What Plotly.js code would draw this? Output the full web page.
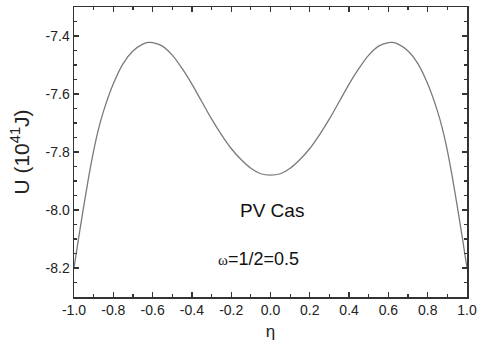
<!DOCTYPE html>
<html>
<head>
<meta charset="utf-8">
<script src="https://cdn.plot.ly/plotly-3.0.1.min.js"></script>
<style>html,body{margin:0;padding:0;background:#fff;}#chart{width:480px;height:347px;}</style>
</head>
<body>
<div id="chart"></div>
<script>
const eta = [-1.00,-0.975,-0.95,-0.925,-0.90,-0.875,-0.85,-0.80,-0.75,-0.70,-0.65,-0.62,-0.60,-0.55,-0.50,-0.45,-0.40,-0.35,-0.30,-0.25,-0.20,-0.15,-0.10,-0.05,0.00,
             0.05,0.10,0.15,0.20,0.25,0.30,0.35,0.40,0.45,0.50,0.55,0.60,0.62,0.65,0.70,0.75,0.80,0.85,0.875,0.90,0.925,0.95,0.975,1.00];
const U = [-8.20,-8.09,-7.985,-7.885,-7.795,-7.72,-7.66,-7.565,-7.495,-7.452,-7.428,-7.422,-7.423,-7.435,-7.466,-7.512,-7.566,-7.626,-7.686,-7.740,-7.788,-7.826,-7.856,-7.875,-7.880,
           -7.875,-7.856,-7.826,-7.788,-7.740,-7.686,-7.626,-7.566,-7.512,-7.466,-7.435,-7.423,-7.422,-7.428,-7.452,-7.495,-7.565,-7.66,-7.72,-7.795,-7.885,-7.985,-8.09,-8.20];
const xTickVals = [-1.0,-0.8,-0.6,-0.4,-0.2,0.0,0.2,0.4,0.6,0.8,1.0];
const xTickText = ['-1.0','-0.8','-0.6','-0.4','-0.2','0.0','0.2','0.4','0.6','0.8','1.0'];
const yTickVals = [-8.2,-8.0,-7.8,-7.6,-7.4];
const yTickText = ['-8.2','-8.0','-7.8','-7.6','-7.4'];
const label1 = 'PV Cas';
const label2 = '<span style="font-family:\'Liberation Serif\',serif;font-size:15px">ω</span>=1/2=0.5';
const fontFam = '"Liberation Sans", Arial, sans-serif';

const trace = {
  x: eta, y: U, type: 'scatter', mode: 'lines',
  line: {color: '#7a7a7a', width: 1.3, shape: 'spline', smoothing: 1},
  hoverinfo: 'skip'
};

const axCommon = {
  showgrid: false, zeroline: false, showline: true, linecolor: '#333', linewidth: 1.5,
  mirror: 'ticks', ticks: 'inside', ticklen: 5, tickwidth: 1.3, tickcolor: '#333',
  tickfont: {family: fontFam, size: 14, color: '#222'}, tickmode: 'array'
};

const layout = {
  width: 480, height: 347,
  margin: {l: 74, r: 13, t: 7, b: 50},
  paper_bgcolor: '#fff', plot_bgcolor: '#fff',
  showlegend: false,
  xaxis: Object.assign({}, axCommon, {
    range: [-1.0, 1.0], tickvals: xTickVals, ticktext: xTickText,
    minor: {tickmode: 'linear', tick0: -1.0, dtick: 0.1, ticks: 'inside', ticklen: 3, tickwidth: 1.2, tickcolor: '#333'},
    title: {text: 'η', font: {family: fontFam, size: 17, color: '#222'}, standoff: 8}
  }),
  yaxis: Object.assign({}, axCommon, {
    range: [-8.3, -7.3], tickvals: yTickVals, ticktext: yTickText,
    minor: {tickmode: 'linear', tick0: -8.3, dtick: 0.05, ticks: 'inside', ticklen: 3, tickwidth: 1.2, tickcolor: '#333'},
    title: {text: 'U (10<sup>41</sup>J)', font: {family: fontFam, size: 21, color: '#222'}, standoff: 10}
  }),
  annotations: [
    {x: 0.007, y: -8.003, xref: 'x', yref: 'y', text: label1, showarrow: false,
     font: {family: fontFam, size: 19, color: '#111'}},
    {x: -0.063, y: -8.169, xref: 'x', yref: 'y', text: label2, showarrow: false,
     font: {family: fontFam, size: 18, color: '#111'}}
  ]
};

Plotly.newPlot('chart', [trace], layout, {staticPlot: true, displayModeBar: false});
</script>
</body>
</html>
